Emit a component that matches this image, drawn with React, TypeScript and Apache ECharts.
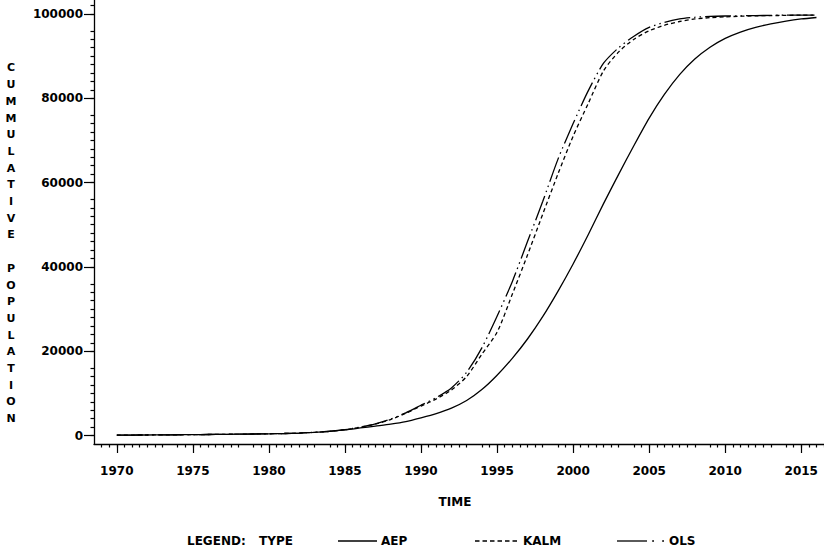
import React, { useEffect, useRef } from "react";
import * as echarts from "echarts";

// ---- data ----
const years = [
  1970, 1971, 1972, 1973, 1974, 1975, 1976, 1977, 1978, 1979,
  1980, 1981, 1982, 1983, 1984, 1985, 1986, 1987, 1988, 1989,
  1990, 1991, 1992, 1993, 1994, 1995, 1996, 1997, 1998, 1999,
  2000, 2001, 2002, 2003, 2004, 2005, 2006, 2007, 2008, 2009,
  2010, 2011, 2012, 2013, 2014, 2015, 2016,
];

const aep = [
  100, 120, 140, 160, 190, 220, 250, 290, 330, 370,
  420, 490, 600, 760, 1000, 1350, 1800, 2250, 2700, 3300,
  4200, 5200, 6500, 8300, 10900, 14300, 18300, 22900, 28200, 34200,
  40700, 47700, 55000, 62000, 68800, 75300, 80900, 85600, 89300, 92100,
  94200, 95700, 96800, 97650, 98300, 98800, 99150,
];

const kalm = [
  100, 120, 140, 160, 190, 220, 250, 290, 330, 370,
  420, 490, 600, 770, 1000, 1400, 1950, 2700, 3800, 5300,
  7000, 8700, 10800, 14000, 19300, 24500, 33500, 42800, 52500, 62000,
  71000, 78800, 86500, 91000, 94000, 96000, 97300, 98200, 98800, 99100,
  99300, 99450, 99550, 99600, 99650, 99700, 99700,
];

const ols = [
  100, 120, 140, 160, 190, 220, 250, 290, 330, 370,
  420, 490, 600, 780, 1020, 1400, 2000, 2800, 3900, 5400,
  7200, 9000, 11300, 15000, 20800, 28300, 36500, 46000, 55500, 65500,
  74000, 81800, 88300, 92000, 94700, 96800, 98000, 98800, 99200, 99400,
  99500, 99550, 99600, 99650, 99700, 99700, 99700,
];

const xTickLabels = [1970, 1975, 1980, 1985, 1990, 1995, 2000, 2005, 2010, 2015];
const yTickLabels = [0, 20000, 40000, 60000, 80000, 100000];

// axis ranges (x runs past the right edge of the page, y past the top,
// so that the 5-year / 20000 intervals stay whole for the minor ticks)
const X_MIN = 1968.5;
const X_MAX = 2018.5;
const X_INTERVAL = 5;
const Y_MIN = -2000;
const Y_MAX = 118000;
const Y_INTERVAL = 20000;

const yTitle = "CUMMULATIVE POPULATION";

const FONT = "DejaVu Sans";
const INK = "#000";

// the chart canvas is larger than the page and shifted up; OFF_Y maps page y to canvas y
const OFF_Y = 62;
const CHART_W = 855;
const CHART_H = 549 + OFF_Y;

export default function App() {
  const ref = useRef<HTMLDivElement>(null);

  useEffect(() => {
    if (!ref.current) return;
    const chart = echarts.init(ref.current, null, { renderer: "svg" });

    const tickStyle = { color: INK, width: 1.2 };
    const labelStyle = {
      fontFamily: FONT,
      fontWeight: "bold" as const,
      fontSize: 12,
      color: INK,
      formatter: (v: number) => String(v),
    };
    const txt = (text: string, x: number, y: number, align: string = "left") => ({
      type: "text",
      x,
      y: y + OFF_Y,
      style: { text, fontFamily: FONT, fontWeight: "bold", fontSize: 12, fill: INK, align, verticalAlign: "middle" },
    });

    const mk = (vals: number[]) => years.map((y, i) => [y, vals[i]]);

    const option: any = {
      animation: false,
      backgroundColor: "#fff",
      grid: { left: 94, right: 0.5, top: 0, bottom: 105, containLabel: false },
      xAxis: {
        type: "value",
        min: X_MIN,
        max: X_MAX,
        interval: X_INTERVAL,
        position: "bottom",
        axisLine: { show: true, onZero: false, lineStyle: { color: INK, width: 1.3 } },
        axisTick: { show: true, customValues: xTickLabels, length: 9, lineStyle: tickStyle },
        minorTick: { show: true, splitNumber: 10, length: 3.5, lineStyle: tickStyle },
        axisLabel: { customValues: xTickLabels, margin: 21, ...labelStyle },
        splitLine: { show: false },
        minorSplitLine: { show: false },
      },
      yAxis: {
        type: "value",
        min: Y_MIN,
        max: Y_MAX,
        interval: Y_INTERVAL,
        position: "left",
        axisLine: { show: true, onZero: false, lineStyle: { color: INK, width: 1.3 } },
        axisTick: { show: true, customValues: yTickLabels, length: 10, lineStyle: tickStyle },
        minorTick: { show: true, splitNumber: 10, length: 3.5, lineStyle: tickStyle },
        axisLabel: { customValues: yTickLabels, margin: 11, ...labelStyle },
        splitLine: { show: false },
        minorSplitLine: { show: false },
      },
      series: [
        {
          name: "AEP",
          type: "line",
          data: mk(aep),
          showSymbol: false,
          symbol: "none",
          smooth: 0.25,
          lineStyle: { color: INK, width: 1.3, type: "solid" },
        },
        {
          name: "KALM",
          type: "line",
          data: mk(kalm),
          showSymbol: false,
          symbol: "none",
          smooth: 0.25,
          lineStyle: { color: INK, width: 1.3, type: [4, 3] },
        },
        {
          name: "OLS",
          type: "line",
          data: mk(ols),
          showSymbol: false,
          symbol: "none",
          smooth: 0.25,
          lineStyle: { color: INK, width: 1.3, type: [26, 4, 1.5, 4, 1.5, 4] },
        },
      ],
      graphic: [
        {
          type: "text",
          x: 11,
          y: 68 - 8.35 + OFF_Y,
          style: {
            text: yTitle.split("").map((c) => (c === " " ? "" : c)).join("\n"),
            fontFamily: FONT,
            fontWeight: "bold",
            fontSize: 11,
            lineHeight: 16.7,
            fill: INK,
            align: "center",
            verticalAlign: "top",
          },
        },
        txt("TIME", 455, 502, "center"),
        txt("LEGEND:", 187, 541),
        txt("TYPE", 259, 541),
        {
          type: "line",
          shape: { x1: 338, y1: 541 + OFF_Y, x2: 377, y2: 541 + OFF_Y },
          style: { stroke: INK, lineWidth: 1.3 },
        },
        txt("AEP", 381, 541),
        {
          type: "line",
          shape: { x1: 475, y1: 541 + OFF_Y, x2: 519, y2: 541 + OFF_Y },
          style: { stroke: INK, lineWidth: 1.3, lineDash: [4.5, 3] },
        },
        txt("KALM", 523, 541),
        {
          type: "line",
          shape: { x1: 617, y1: 541 + OFF_Y, x2: 647, y2: 541 + OFF_Y },
          style: { stroke: INK, lineWidth: 1.3 },
        },
        { type: "circle", shape: { cx: 653, cy: 541 + OFF_Y, r: 0.9 }, style: { fill: INK } },
        { type: "circle", shape: { cx: 663, cy: 541 + OFF_Y, r: 0.9 }, style: { fill: INK } },
        txt("OLS", 669, 541),
      ],
    };

    chart.setOption(option);
    return () => chart.dispose();
  }, []);

  return (
    <div
      style={{ position: "absolute", left: 0, top: 0, width: 824, height: 549, overflow: "hidden", background: "#fff" }}
    >
      <div
        ref={ref}
        style={{ position: "absolute", left: 0, top: -OFF_Y, width: CHART_W, height: CHART_H }}
      />
    </div>
  );
}
